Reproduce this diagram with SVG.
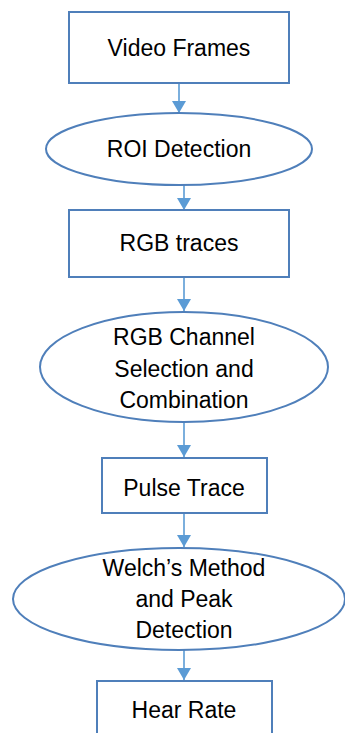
<svg xmlns="http://www.w3.org/2000/svg" width="345" height="733" viewBox="0 0 345 733">
<style>
.n{fill:#fff;stroke:#4f7fba;stroke-width:2}
.c{stroke:#5b9bd5;stroke-width:1.6;fill:none}
text{font-family:"Liberation Sans",Arial,sans-serif;font-size:23px;fill:#000;text-anchor:middle}
</style>
<defs>
<marker id="ah" markerUnits="userSpaceOnUse" markerWidth="14" markerHeight="14" refX="12" refY="7" orient="auto">
<path d="M0,0 L12,7 L0,14 Z" fill="#5b9bd5"/>
</marker>
</defs>
<rect width="345" height="733" fill="#fff"/>
<g id="connectors">
<line class="c" x1="179" y1="83" x2="179" y2="113" marker-end="url(#ah)"/>
<line class="c" x1="184" y1="185" x2="184" y2="210" marker-end="url(#ah)"/>
<line class="c" x1="184" y1="277" x2="184" y2="311" marker-end="url(#ah)"/>
<line class="c" x1="184" y1="423" x2="184" y2="457" marker-end="url(#ah)"/>
<line class="c" x1="184" y1="513" x2="184" y2="547" marker-end="url(#ah)"/>
<line class="c" x1="184" y1="650" x2="184" y2="680" marker-end="url(#ah)"/>
</g>
<g id="video-frames">
<rect class="n" x="69" y="12" width="220" height="71"/>
<text x="179" y="56">Video Frames</text>
</g>
<g id="roi-detection">
<ellipse class="n" cx="179" cy="149" rx="133" ry="36"/>
<text x="179" y="157">ROI Detection</text>
</g>
<g id="rgb-traces">
<rect class="n" x="69" y="210" width="220" height="67"/>
<text x="179" y="251">RGB traces</text>
</g>
<g id="rgb-channel">
<ellipse class="n" cx="184" cy="367" rx="144" ry="55"/>
<text x="184" y="345">RGB Channel</text>
<text x="184" y="377">Selection and</text>
<text x="184" y="408">Combination</text>
</g>
<g id="pulse-trace">
<rect class="n" x="102" y="458" width="165" height="55"/>
<text x="184" y="496">Pulse Trace</text>
</g>
<g id="welch">
<ellipse class="n" cx="179" cy="599" rx="166" ry="51"/>
<text x="184" y="576">Welch’s Method</text>
<text x="184" y="607">and Peak</text>
<text x="184" y="638">Detection</text>
</g>
<g id="heart-rate">
<rect class="n" x="97" y="681" width="175" height="60"/>
<text x="184" y="718">Hear Rate</text>
</g>
</svg>
